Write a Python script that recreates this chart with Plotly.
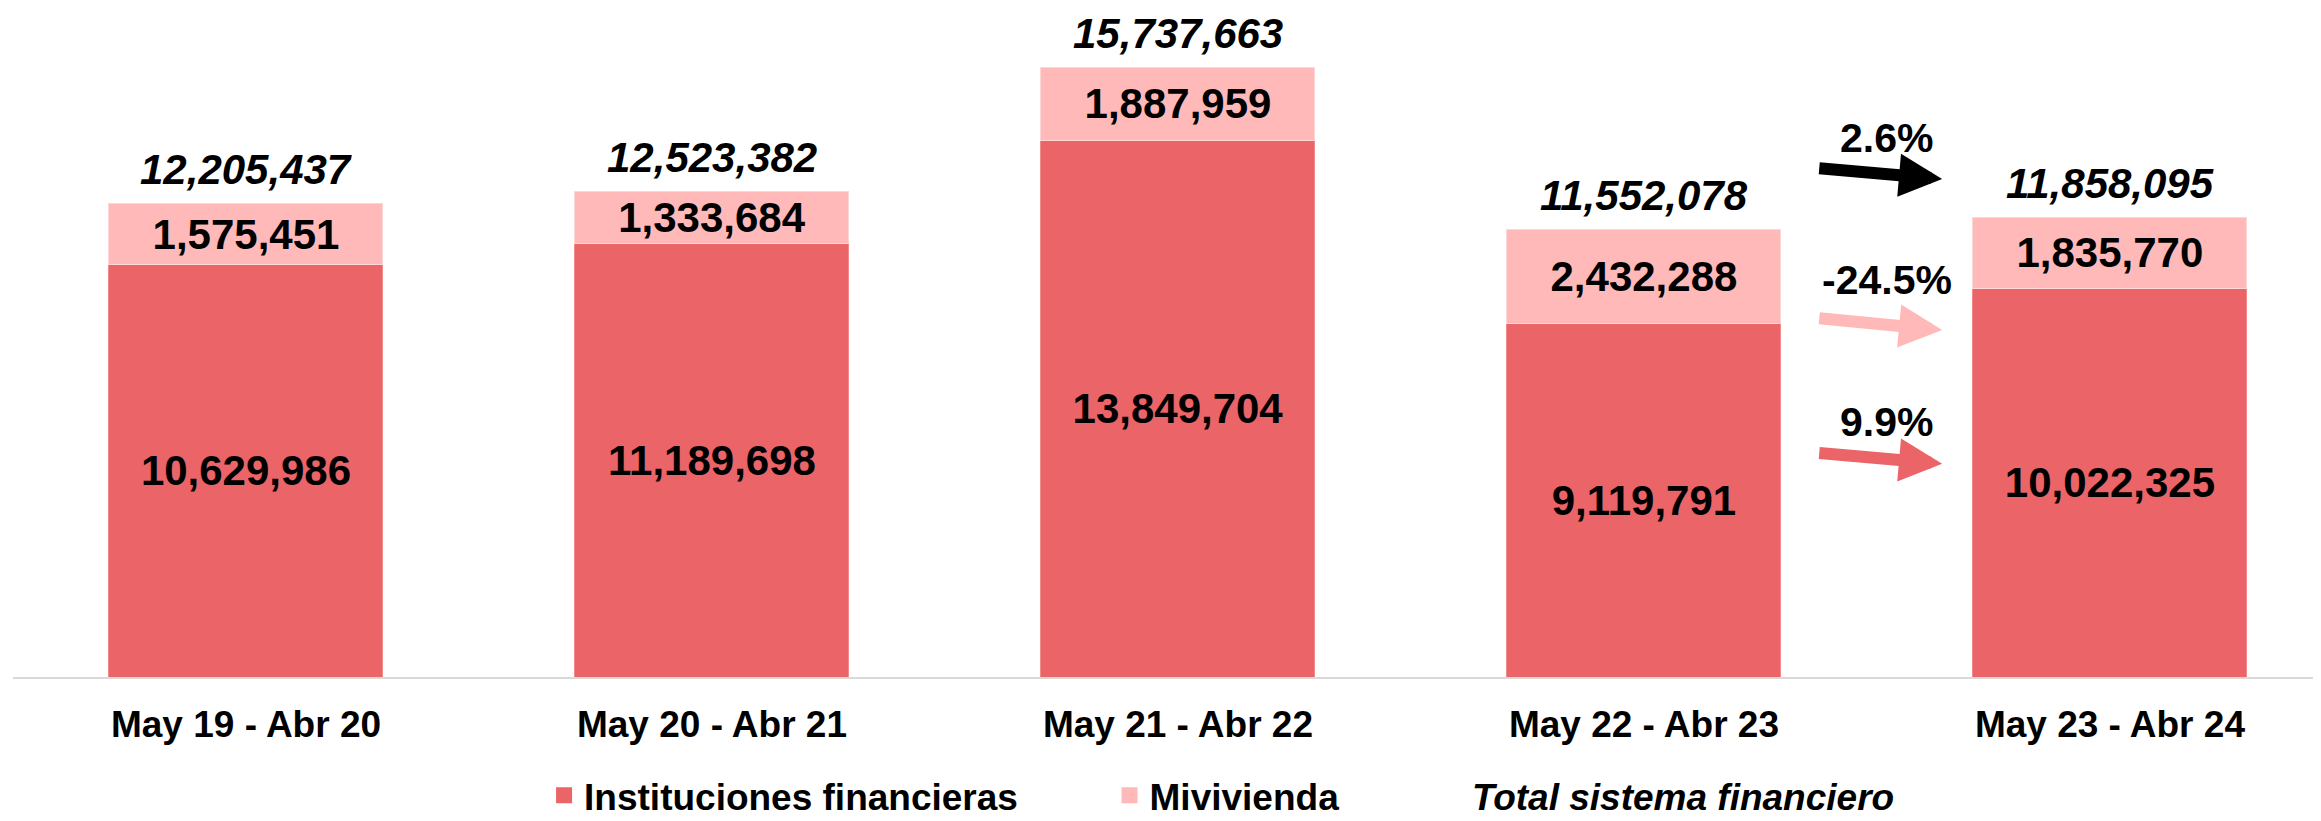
import plotly.graph_objects as go

# ---- data ----
categories = ["May 19 - Abr 20", "May 20 - Abr 21", "May 21 - Abr 22", "May 22 - Abr 23", "May 23 - Abr 24"]
instituciones = [10629986, 11189698, 13849704, 9119791, 10022325]
mivivienda = [1575451, 1333684, 1887959, 2432288, 1835770]
totales = [12205437, 12523382, 15737663, 11552078, 11858095]

RED = "#EB6467"
PINK = "#FFB9B9"
FONT = "Arial, Liberation Sans, sans-serif"

fig = go.Figure()

fig.add_trace(go.Bar(
    x=categories, y=instituciones, name="Instituciones financieras",
    marker=dict(color=RED, line=dict(color="#F28A8C", width=1)),
    text=[f"{v:,}" for v in instituciones], textposition="inside",
    insidetextanchor="middle", constraintext="none",
    textfont=dict(family=FONT, size=42, color="black", weight="bold"),
    showlegend=False,
))
fig.add_trace(go.Bar(
    x=categories, y=mivivienda, name="Mivivienda",
    marker=dict(color=PINK, line=dict(color="#FFD6D6", width=1)),
    text=[f"{v:,}" for v in mivivienda], textposition="inside",
    insidetextanchor="middle", constraintext="none",
    textfont=dict(family=FONT, size=42, color="black", weight="bold"),
    showlegend=False,
))

# legend proxies (each in its own legend box)
fig.add_trace(go.Scatter(x=[None], y=[None], mode="markers", name="Instituciones financieras",
                         marker=dict(symbol="square", size=18, color=RED), legend="legend"))
fig.add_trace(go.Scatter(x=[None], y=[None], mode="markers", name="Mivivienda",
                         marker=dict(symbol="square", size=18, color=PINK), legend="legend2"))
fig.add_trace(go.Scatter(x=[None], y=[None], mode="markers", name="<i>Total sistema financiero</i>",
                         marker=dict(symbol="square", size=18, color="rgba(0,0,0,0)"), legend="legend3"))

# totals above bars
for i, t in enumerate(totales):
    fig.add_annotation(x=i, y=t, text=f"<b><i>{t:,}</i></b>", showarrow=False,
                       yshift=34, font=dict(family=FONT, size=42, color="black"))

# growth arrows between the last two periods
pct_total = totales[4] / totales[3] - 1
pct_miv = mivivienda[4] / mivivienda[3] - 1
pct_inst = instituciones[4] / instituciones[3] - 1

arrows = [
    # (pct, color, tail_y, tip_y, text_y)
    (pct_total, "black", 13.13e6, 12.85e6, 13.9e6),
    (pct_miv, PINK, 9.26e6, 8.95e6, 10.24e6),
    (pct_inst, RED, 5.78e6, 5.50e6, 6.58e6),
]
x_tail, x_tip, x_text = 3.373, 3.64, 3.521
for pct, col, ty0, ty1, txy in arrows:
    fig.add_annotation(x=x_tip, y=ty1, ax=x_tail, ay=ty0, axref="x", ayref="y",
                       xref="x", yref="y", text="", showarrow=True,
                       arrowhead=2, arrowsize=0.72, arrowwidth=12, arrowcolor=col, standoff=0)
    fig.add_annotation(x=x_text, y=txy, text=f"<b>{pct*100:.1f}%</b>", showarrow=False,
                       font=dict(family=FONT, size=41, color="black"))

legend_common = dict(orientation="h", yanchor="middle", y=-0.1775, xanchor="left",
                     bgcolor="rgba(0,0,0,0)", borderwidth=0,
                     font=dict(family=FONT, size=37, color="black", weight="bold"))

fig.update_layout(
    width=2313, height=813,
    margin=dict(l=5, r=0, t=0, b=144, autoexpand=False),
    paper_bgcolor="white", plot_bgcolor="white",
    barmode="stack", bargap=0.412,
    font=dict(family=FONT, color="black"),
    xaxis=dict(type="category", range=[-0.5, 4.453], showgrid=False, zeroline=False,
               showline=True, linecolor="#D9D9D9", linewidth=2, ticks="",
               tickfont=dict(family=FONT, size=37, color="black", weight="bold"),
               ticklabelstandoff=14),
    yaxis=dict(range=[0, 17.26e6], visible=False, showgrid=False, zeroline=False),
    legend=dict(**legend_common, x=0.2301),
    legend2=dict(**legend_common, x=0.4751),
    legend3=dict(**legend_common, x=0.6148),
)

fig.write_html("out.html")
